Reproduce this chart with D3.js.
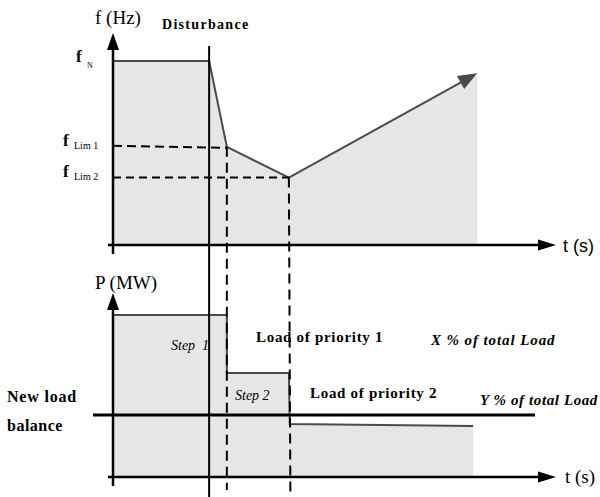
<!DOCTYPE html>
<html>
<head>
<meta charset="utf-8">
<script src="https://cdn.jsdelivr.net/npm/d3@7"></script>
<style>
  body { margin: 0; background: #fff; }
  svg { display: block; }
  text { font-family: "Liberation Serif", "Times New Roman", serif; fill: #000; }
  .bold { font-weight: bold; }
  .ital { font-style: italic; }
</style>
</head>
<body>
<div id="chart"></div>
<script>
// time axis in arbitrary units (0..100)
var tDisturbance = 21.7;
var tLim1 = 25.7;
var tLim2 = 39.7;

// frequency curve (Hz)
var freqTimes = [0, 21.7, 25.7, 39.7, 82.2];
var freqValues = [50, 50, 48.6, 48.1, 49.8];
var freqLevels = [
  {name: "N", value: 50},
  {name: "Lim 1", value: 48.6},
  {name: "Lim 2", value: 48.1}
];

// load curve (% of total load)
var loadTimes = [0, 25.7, 25.7, 39.7, 39.9, 81.3];
var loadValues = [100, 100, 64.2, 64.2, 32.7, 31.5];
var newBalance = 38.3;

var width = 600, height = 497;
var svg = d3.select("#chart").append("svg").attr("width", width).attr("height", height);

var xscale = d3.scaleLinear().domain([0, 100]).range([113, 556]);
var fscale = d3.scaleLinear().domain([47, 50]).range([245, 61]);
var pscale = d3.scaleLinear().domain([0, 100]).range([477, 315]);

var fillCol = "#e6e6e6", lineCol = "#4a4a4a";

// ---------- top panel: frequency ----------
var freqData = freqTimes.map(function (t, i) { return [t, freqValues[i]]; });
svg.append("path")
  .datum(freqData)
  .attr("fill", fillCol)
  .attr("d", d3.area().x(function (d) { return xscale(d[0]); })
    .y0(fscale(47)).y1(function (d) { return fscale(d[1]); }));

// ---------- bottom panel: load ----------
var loadData = loadTimes.map(function (t, i) { return [t, loadValues[i]]; });
svg.append("path")
  .datum(loadData)
  .attr("fill", fillCol)
  .attr("d", d3.area().x(function (d) { return xscale(d[0]); })
    .y0(pscale(0)).y1(function (d) { return pscale(d[1]); }));

svg.append("path")
  .datum(loadData)
  .attr("fill", "none").attr("stroke", lineCol).attr("stroke-width", 2)
  .attr("d", d3.line().x(function (d) { return xscale(d[0]); }).y(function (d) { return pscale(d[1]); }));

// frequency line with arrow head
var freqLine = d3.line().x(function (d) { return xscale(d[0]); }).y(function (d) { return fscale(d[1]); });
var last = freqData[freqData.length - 1], prev = freqData[freqData.length - 2];
var tipX = xscale(last[0]), tipY = fscale(last[1]);
var ang = Math.atan2(tipY - fscale(prev[1]), tipX - xscale(prev[0]));
var headLen = 19, headHalf = 7.5;
var lineData = freqData.slice(0, -1).concat([[xscale.invert(tipX - Math.cos(ang) * (headLen - 2)), fscale.invert(tipY - Math.sin(ang) * (headLen - 2))]]);
svg.append("path")
  .datum(lineData)
  .attr("fill", "none").attr("stroke", lineCol).attr("stroke-width", 2)
  .attr("d", freqLine);
var bx = tipX - Math.cos(ang) * headLen, by = tipY - Math.sin(ang) * headLen;
svg.append("path")
  .attr("fill", lineCol)
  .attr("d", "M" + tipX + "," + tipY +
    "L" + (bx - Math.sin(ang) * headHalf) + "," + (by + Math.cos(ang) * headHalf) +
    "L" + (bx + Math.sin(ang) * headHalf) + "," + (by - Math.cos(ang) * headHalf) + "Z");

// dashed guides
svg.append("line")
  .attr("x1", xscale(0)).attr("x2", xscale(tLim1))
  .attr("y1", fscale(48.6) - 1).attr("y2", fscale(48.6) + 1)
  .attr("stroke", "#000").attr("stroke-width", 2).attr("stroke-dasharray", "9,5");
svg.append("line")
  .attr("x1", xscale(0)).attr("x2", xscale(tLim2))
  .attr("y1", fscale(48.1)).attr("y2", fscale(48.1))
  .attr("stroke", "#000").attr("stroke-width", 2).attr("stroke-dasharray", "8,5");
svg.append("line")
  .attr("x1", xscale(tLim1)).attr("x2", xscale(tLim1))
  .attr("y1", fscale(48.6)).attr("y2", 490)
  .attr("stroke", "#000").attr("stroke-width", 2).attr("stroke-dasharray", "10,6");
svg.append("line")
  .attr("x1", xscale(tLim2)).attr("x2", xscale(tLim2) + 1.5)
  .attr("y1", fscale(48.1)).attr("y2", 494)
  .attr("stroke", "#000").attr("stroke-width", 2).attr("stroke-dasharray", "10,6");

// disturbance line
svg.append("line")
  .attr("x1", xscale(tDisturbance)).attr("x2", xscale(tDisturbance))
  .attr("y1", 46).attr("y2", height)
  .attr("stroke", "#000").attr("stroke-width", 2);

// new load balance line
svg.append("line")
  .attr("x1", 93).attr("x2", 535)
  .attr("y1", pscale(newBalance)).attr("y2", pscale(newBalance))
  .attr("stroke", "#000").attr("stroke-width", 3);

// axes with arrows
function axisPair(yScale, y0, yTop) {
  var ax = xscale(0), ay = yScale(y0);
  svg.append("line").attr("x1", ax).attr("x2", ax).attr("y1", yTop + 14).attr("y2", ay + 9)
    .attr("stroke", "#000").attr("stroke-width", 2.5);
  svg.append("path").attr("fill", "#000")
    .attr("d", "M" + ax + "," + yTop + "L" + (ax - 6) + "," + (yTop + 17) + "L" + (ax + 6) + "," + (yTop + 17) + "Z");
  var xEnd = xscale(100);
  svg.append("line").attr("x1", ax - 5).attr("x2", xEnd - 14).attr("y1", ay).attr("y2", ay)
    .attr("stroke", "#000").attr("stroke-width", 2.5);
  svg.append("path").attr("fill", "#000")
    .attr("d", "M" + xEnd + "," + ay + "L" + (xEnd - 18) + "," + (ay - 5.5) + "L" + (xEnd - 18) + "," + (ay + 5.5) + "Z");
}
axisPair(fscale, 47, 33);
axisPair(pscale, 0, 293);

// labels
function label(x, y, txt, size, cls, extra) {
  var t = svg.append("text").attr("x", x).attr("y", y).attr("font-size", size).text(txt);
  if (cls) t.attr("class", cls);
  if (extra) extra(t);
  return t;
}
label(95, 24, "f (Hz)", 19);
label(162, 29, "Disturbance", 14, "bold", function (t) { t.attr("letter-spacing", 1.3); });
label(563, 252, "t (s)", 18, null, function (t) { t.style("font-family", "'Liberation Sans', Arial, sans-serif"); });

freqLevels.forEach(function (lv) {
  var y = fscale(lv.value);
  var big = lv.name === "N";
  svg.append("text").attr("x", big ? 76 : 63).attr("y", y + (big ? 1 : -1))
    .attr("font-size", 17).attr("class", "bold").text("f");
  svg.append("text").attr("x", big ? 87 : 74).attr("y", y + (big ? 7 : 2))
    .attr("font-size", big ? 8 : 10).text(lv.name);
});

label(95, 289, "P (MW)", 19);
label(171, 350, "Step  1", 14, "ital", function (t) { t.style("white-space", "pre"); });
label(235, 400, "Step 2", 14, "ital");
label(256, 342, "Load of priority 1", 15, "bold", function (t) { t.attr("letter-spacing", 0.7); });
label(431, 345, "X % of total Load", 15, "bold ital", function (t) { t.attr("letter-spacing", 0.9); });
label(310, 398, "Load of priority 2", 15, "bold", function (t) { t.attr("letter-spacing", 0.7); });
label(480, 405, "Y % of total Load", 15, "bold ital", function (t) { t.attr("letter-spacing", 0.6); });
label(7, 402, "New load", 16, "bold", function (t) { t.attr("letter-spacing", 0.8); });
label(7, 431, "balance", 16, "bold", function (t) { t.attr("letter-spacing", 0.5); });
label(565, 483, "t (s)", 19);
</script>
</body>
</html>
